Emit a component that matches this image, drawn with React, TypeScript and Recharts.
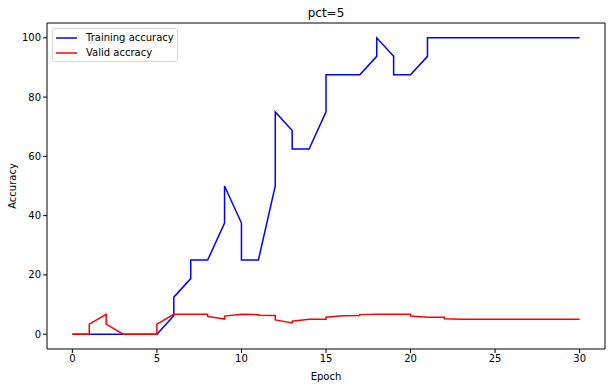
import React from "react";
import { LineChart, Line, XAxis, YAxis, Legend, ReferenceLine } from "recharts";

const epochs = [
  0, 1, 1, 2, 2, 3, 3, 4, 4, 5, 5, 6, 6, 7, 7, 8, 8, 9, 9, 10, 10, 11, 11, 12, 12, 13, 13, 14, 14, 15, 15,
  16, 16, 17, 17, 18, 18, 19, 19, 20, 20, 21, 21, 22, 22, 23, 23, 24, 24, 25, 25, 26, 26, 27, 27, 28, 28,
  29, 29, 30,
];

const trainAcc = [
  0, 0, 0, 0, 0, 0, 0, 0, 0, 0, 0, 6.25, 12.5, 18.75, 25, 25, 25, 37.5, 50, 37.5, 25, 25, 25, 50, 75,
  68.75, 62.5, 62.5, 62.5, 75, 87.5, 87.5, 87.5, 87.5, 87.5, 93.75, 100, 93.75, 87.5, 87.5, 87.5, 93.75,
  100, 100, 100, 100, 100, 100, 100, 100, 100, 100, 100, 100, 100, 100, 100, 100, 100, 100,
];

const validAcc = [
  0, 0, 3.4, 6.7, 3.4, 0, 0, 0, 0, 0, 3.4, 6.7, 6.7, 6.7, 6.7, 6.7, 6.0, 5.1, 6.1, 6.7, 6.7, 6.6, 6.4, 6.3,
  4.8, 3.8, 4.4, 5.0, 5.0, 5.0, 5.7, 6.2, 6.2, 6.3, 6.6, 6.7, 6.7, 6.7, 6.7, 6.7, 6.1, 5.7, 5.7, 5.7, 5.2,
  5.0, 5.0, 5.0, 5.0, 5.0, 5.0, 5.0, 5.0, 5.0, 5.0, 5.0, 5.0, 5.0, 5.0, 5.0,
];

const xTicks = [0, 5, 10, 15, 20, 25, 30];
const yTicks = [0, 20, 40, 60, 80, 100];
const xDomain = [-1.5, 31.5];
const yDomain = [-5, 105];

const series = [
  { key: "train", name: "Training accuracy", color: "#0000ff" },
  { key: "valid", name: "Valid accracy", color: "#ff0000" },
];

const data = epochs.map((epoch, i) => ({ epoch, train: trainAcc[i], valid: validAcc[i] }));

function LegendBox() {
  return (
    <div
      style={{
        border: "1px solid #d6d6d6",
        borderRadius: 3,
        background: "#fff",
        padding: "1px 3px 1px 3px",
        fontSize: 10,
        lineHeight: "15px",
        color: "#000",
      }}
    >
      {series.map((s) => (
        <div key={s.key} style={{ display: "flex", alignItems: "center", height: 15 }}>
          <svg width={21} height={4} style={{ marginRight: 9 }}>
            <line x1={0} y1={2} x2={21} y2={2} stroke={s.color} strokeWidth={1.5} />
          </svg>
          <span>{s.name}</span>
        </div>
      ))}
    </div>
  );
}

export default function App() {
  return (
    <div
      style={{
        position: "absolute",
        left: 0,
        top: 0,
        width: 615,
        height: 387,
        background: "#fff",
        fontFamily: "DejaVu Sans",
      }}
    >
      <LineChart width={615} height={387} data={data} margin={{ top: 23, right: 10, bottom: 0, left: 0 }}>
        <XAxis
          dataKey="epoch"
          type="number"
          domain={xDomain}
          ticks={xTicks}
          allowDataOverflow
          height={38}
          stroke="#000"
          tick={{ fill: "#000", fontSize: 10 }}
          tickSize={4}
          tickMargin={2}
          label={{ value: "Epoch", position: "insideBottom", offset: 7, fill: "#000", fontSize: 10 }}
        />
        <YAxis
          type="number"
          domain={yDomain}
          ticks={yTicks}
          allowDataOverflow
          width={47}
          stroke="#000"
          tick={{ fill: "#000", fontSize: 10 }}
          tickSize={4}
          tickMargin={2}
          label={{
            content: (props: any) => {
              const vb = props.viewBox;
              const cx = 12;
              const cy = vb.y + vb.height / 2;
              return (
                <text
                  x={cx}
                  y={cy}
                  fill="#000"
                  fontSize={10}
                  textAnchor="middle"
                  dominantBaseline="central"
                  transform={`rotate(-90, ${cx}, ${cy})`}
                >
                  Accuracy
                </text>
              );
            },
          }}
        />
        <ReferenceLine
          y={yDomain[1]}
          stroke="#000"
          label={{ value: "pct=5", position: "top", offset: 6, fill: "#000", fontSize: 12 }}
        />
        <ReferenceLine x={xDomain[1]} stroke="#000" />
        <Legend
          layout="horizontal"
          verticalAlign="middle"
          align="center"
          content={() => <LegendBox />}
          wrapperStyle={{ left: 52, top: 28, width: "auto" }}
        />
        {series.map((s) => (
          <Line
            key={s.key}
            type="linear"
            dataKey={s.key}
            name={s.name}
            stroke={s.color}
            strokeWidth={1.5}
            dot={false}
            activeDot={false}
            isAnimationActive={false}
          />
        ))}
      </LineChart>
    </div>
  );
}
